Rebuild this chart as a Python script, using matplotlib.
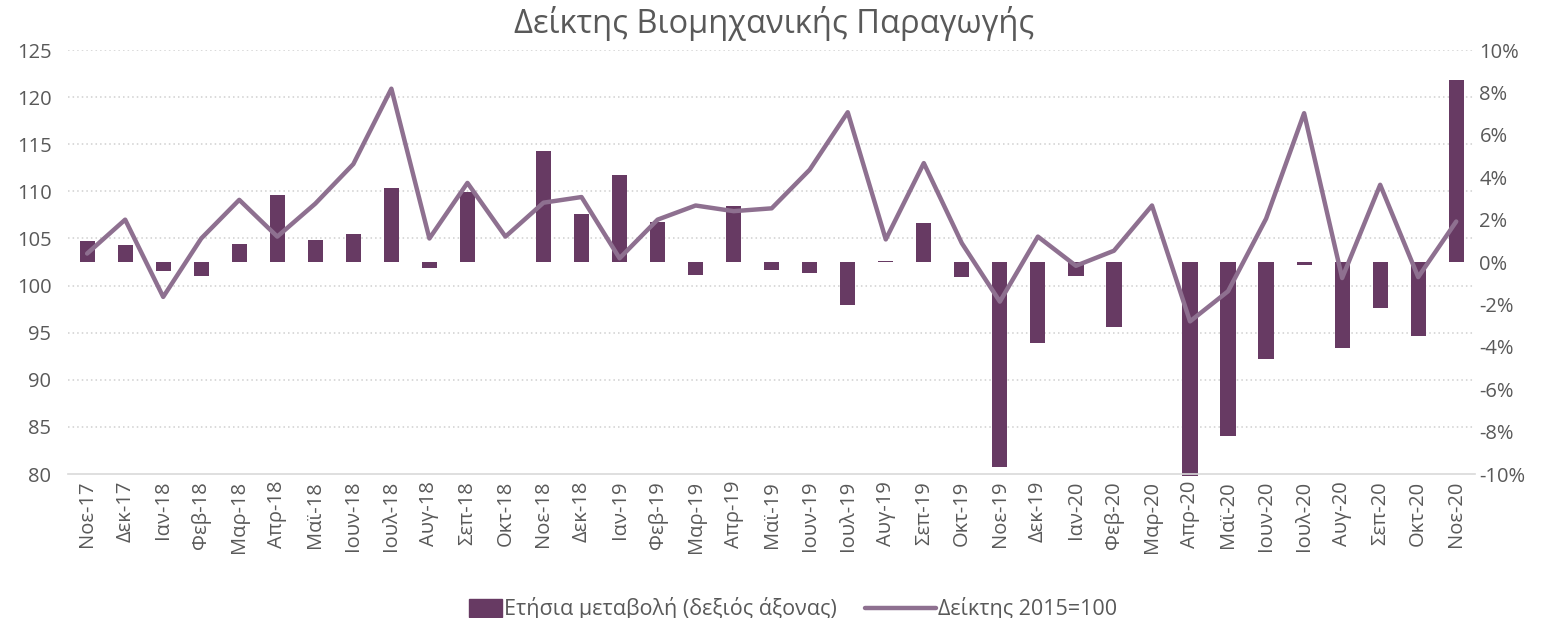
import matplotlib.pyplot as plt
import numpy as np
from matplotlib.ticker import FuncFormatter
from matplotlib.patches import Rectangle
from matplotlib.legend_handler import HandlerPatch

plt.rcParams['font.family'] = ['Open Sans', 'DejaVu Sans']

months = ['Νοε-17', 'Δεκ-17', 'Ιαν-18', 'Φεβ-18', 'Μαρ-18', 'Απρ-18', 'Μαϊ-18', 'Ιουν-18',
          'Ιουλ-18', 'Αυγ-18', 'Σεπ-18', 'Οκτ-18', 'Νοε-18', 'Δεκ-18', 'Ιαν-19', 'Φεβ-19',
          'Μαρ-19', 'Απρ-19', 'Μαϊ-19', 'Ιουν-19', 'Ιουλ-19', 'Αυγ-19', 'Σεπ-19', 'Οκτ-19',
          'Νοε-19', 'Δεκ-19', 'Ιαν-20', 'Φεβ-20', 'Μαρ-20', 'Απρ-20', 'Μαϊ-20', 'Ιουν-20',
          'Ιουλ-20', 'Αυγ-20', 'Σεπ-20', 'Οκτ-20', 'Νοε-20']

# Δείκτης 2015=100 (left axis)
index_vals = [103.4, 107.0, 98.8, 105.0, 109.1, 105.2, 108.7, 112.9,
              120.9, 105.0, 110.9, 105.2, 108.8, 109.4, 102.9, 107.0,
              108.5, 107.9, 108.2, 112.3, 118.4, 104.9, 113.0, 104.5,
              98.3, 105.2, 102.1, 103.7, 108.5, 96.2, 99.4, 107.1,
              118.3, 100.8, 110.7, 100.9, 106.8]

# Ετήσια μεταβολή % (right axis)
yoy_vals = [0.97, 0.79, -0.44, -0.68, 0.83, 3.14, 1.02, 1.30,
            3.50, -0.30, 3.30, -0.02, 5.22, 2.28, 4.10, 1.89,
            -0.60, 2.63, -0.39, -0.50, -2.04, 0.05, 1.86, -0.71,
            -9.67, -3.80, -0.64, -3.07, 0.02, -10.1, -8.20, -4.56,
            -0.16, -4.04, -2.15, -3.49, 8.60]

bar_color = '#673A63'
line_color = '#8E7090'
text_color = '#595959'


def small_box(legend, orig_handle, xdescent, ydescent, width, height, fontsize):
    # excel-style legend key: a short block at the right end of the handle
    w = fontsize * 1.55
    return Rectangle((-xdescent + width - w, -ydescent - 1), w, height + 2)


fig = plt.figure(figsize=(15.48, 6.18), dpi=100)
ax = fig.add_axes([0.044, 0.233, 0.909, 0.686])
ax2 = ax.twinx()

x = np.arange(len(months))

# bars on the right axis, line on the left axis (line drawn on top)
bars = ax2.bar(x, yoy_vals, width=0.4, color=bar_color, zorder=2)
for b in bars:
    b.set_clip_on(False)
ax2.set_ylim(-10, 10)
ax2.set_yticks(np.arange(-10, 11, 2))
ax2.yaxis.set_major_formatter(FuncFormatter(lambda v, p: f'{v:.0f}%'))

ax.set_ylim(80, 125)
ax.set_yticks(np.arange(80, 126, 5))
ax.set_xlim(-0.5, len(months) - 0.5)
ax.set_xticks(x)
ax.set_xticklabels(months, rotation=90)

ax.set_zorder(ax2.get_zorder() + 1)
ax.patch.set_visible(False)
line, = ax.plot(x, index_vals, color=line_color, lw=3.2, solid_joinstyle='round',
                solid_capstyle='round', zorder=3)

for v in np.arange(85, 126, 5):
    ax2.axhline((v - 80) / 45 * 20 - 10, color='#CFCFCF', lw=1.1, ls=(0, (1, 2)), zorder=0)

for a in (ax, ax2):
    for s in a.spines.values():
        s.set_visible(False)
    a.tick_params(length=0, labelsize=14.5, colors=text_color)
ax.spines['bottom'].set_visible(True)
ax.spines['bottom'].set_color('#D9D9D9')
ax.spines['bottom'].set_linewidth(1.2)
ax.tick_params(axis='x', pad=5, labelsize=14.5)
ax.tick_params(axis='y', pad=12)
ax2.tick_params(axis='y', pad=3)

fig.suptitle('Δείκτης Βιομηχανικής Παραγωγής', fontsize=23.5, color=text_color, y=0.99)

bar_key = Rectangle((0, 0), 1, 1, color=bar_color)
fig.legend([bar_key, line], ['Ετήσια μεταβολή (δεξιός άξονας)', 'Δείκτης 2015=100'],
           loc='lower center', ncol=2, frameon=False,
           fontsize=15.5, labelcolor=text_color, bbox_to_anchor=(0.5, -0.035),
           handlelength=3.3, handletextpad=0.1, columnspacing=1.3,
           handler_map={Rectangle: HandlerPatch(patch_func=small_box)})

fig.savefig('out.png', dpi=100)
